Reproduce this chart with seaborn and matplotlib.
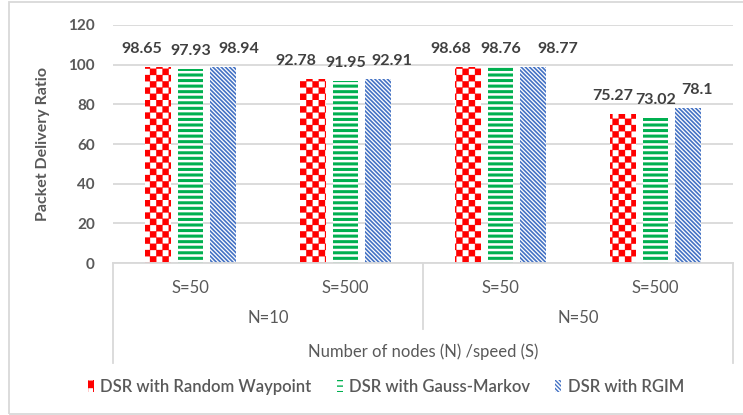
import numpy as np
import pandas as pd
import matplotlib
matplotlib.use('Agg')
import matplotlib.pyplot as plt
import matplotlib.hatch as mhatch
from matplotlib.path import Path
from matplotlib.patches import Rectangle, Patch
import matplotlib.transforms as mtransforms
import seaborn as sns

settings = ['N=10 S=50', 'N=10 S=500', 'N=50 S=50', 'N=50 S=500']
speed_labels = ['S=50', 'S=500', 'S=50', 'S=500']
node_labels = ['N=10', 'N=50']
models = ['DSR with Random Waypoint', 'DSR with Gauss-Markov', 'DSR with RGIM']
random_waypoint = [98.65, 92.78, 98.68, 75.27]
gauss_markov = [97.93, 91.95, 98.76, 73.02]
rgim = [98.94, 92.91, 98.77, 78.1]

colors = ['#FF0000', '#00B050', '#4472C4']


# checkerboard pattern for the red bars (takes the place of the "*" stars hatch)
class CheckerHatch(mhatch.HatchPatternBase):
    def __init__(self, hatch, density):
        self.n = 16 * hatch.count('*')
        self.num_vertices = (self.n * self.n // 2) * 5

    def set_vertices_and_codes(self, vertices, codes):
        s = 1.0 / self.n
        k = 0
        for i in range(self.n):
            for j in range(self.n):
                if (i + j) % 2:
                    continue
                x, y = i * s, j * s
                vertices[k:k + 5] = [(x, y), (x + s, y), (x + s, y + s), (x, y + s), (x, y)]
                codes[k:k + 5] = [Path.MOVETO, Path.LINETO, Path.LINETO, Path.LINETO, Path.CLOSEPOLY]
                k += 5


mhatch._hatch_types = [t for t in mhatch._hatch_types if t is not mhatch.Stars] + [CheckerHatch]

hatches = ['*', '---', '\\' * 8]
hatch_lw = [0.2, 2.2, 1.2]
# horizontal nudges of the value labels (points), as in the original
label_dx = [[-12, -13, -13, -8], [0, 0, 0, 0], [12, 10, 18, 7]]

plt.rcParams['font.family'] = ['Lato', 'DejaVu Sans']
plt.rcParams['hatch.linewidth'] = 1.0

df = pd.DataFrame({
    'setting': settings * 3,
    'pdr': random_waypoint + gauss_markov + rgim,
    'model': np.repeat(models, len(settings)),
})

fig = plt.figure(figsize=(7.43, 4.15), dpi=100)
ax = fig.add_axes([113 / 743, 1 - 263 / 415, 620 / 743, 238 / 415])

sns.barplot(data=df, x='setting', y='pdr', hue='model', order=settings, hue_order=models,
            palette=colors, width=0.62, gap=0.19, legend=False, ax=ax)

text_gray = '#595959'
grid_gray = '#D9D9D9'

handles = []
for cont, col, h, lw, dxs in zip(ax.containers, colors, hatches, hatch_lw, label_dx):
    for bar in cont:
        bar.set_facecolor('white')
        bar.set_edgecolor(col)
        bar.set_linewidth(0)
        bar.set_hatch(h)
        if hasattr(bar, 'set_hatch_linewidth'):
            bar.set_hatch_linewidth(lw)
    texts = ax.bar_label(cont, fmt='{:g}', padding=8, fontsize=11.5, fontweight='bold', color='#404040')
    for t, dx in zip(texts, dxs):
        t.xyann = (dx, 8)
    hp = Patch(facecolor='white', edgecolor=col, hatch=h, linewidth=0)
    if hasattr(hp, 'set_hatch_linewidth'):
        hp.set_hatch_linewidth(lw)
    handles.append(hp)

ax.set_ylim(0, 120)
ax.set_xlim(-0.5, 3.5)
ax.set_yticks(range(0, 121, 20))
ax.yaxis.grid(True, color=grid_gray, linewidth=1.3)
ax.set_axisbelow(True)
for side in ['left', 'right', 'top']:
    ax.spines[side].set_visible(False)
ax.spines['bottom'].set_color(grid_gray)
ax.spines['bottom'].set_linewidth(1.3)

ax.tick_params(axis='y', length=0, pad=13, labelsize=11, labelcolor=text_gray)
for t in ax.get_yticklabels():
    t.set_fontweight('bold')
ax.set_xticks(range(4))
ax.set_xticklabels(speed_labels)
ax.tick_params(axis='x', length=0, pad=12, labelsize=12, labelcolor=text_gray)

# multi-level category axis
trans = mtransforms.blended_transform_factory(ax.transData, ax.transAxes)
for x, depth in [(-0.5, 100), (1.5, 66), (3.5, 100)]:
    ax.plot([x, x], [0, -depth / 238], transform=trans, color=grid_gray, lw=1.3, clip_on=False)
for i, lab in enumerate(node_labels):
    ax.text(0.5 + 2 * i, -(318 - 263) / 238, lab, transform=trans, ha='center', va='center',
            fontsize=12, color=text_gray)

ax.set_xlabel('Number of nodes (N) /speed (S)', fontsize=12, color=text_gray, va='center')
ax.xaxis.set_label_coords(0.5, -(352 - 263) / 238)
ax.set_ylabel('Packet Delivery Ratio', fontsize=11.5, fontweight='bold', color=text_gray, va='center')
ax.yaxis.set_label_coords(-(113 - 43) / 620, 0.5)

fig.legend(handles, models, loc='center', bbox_to_anchor=(386 / 743, 1 - 387 / 415), ncol=3,
           frameon=False, labelcolor=text_gray, handlelength=0.35, handleheight=0.7,
           handletextpad=0.4, columnspacing=1.5, prop={'weight': 'semibold', 'size': 12})

fig.patches.append(Rectangle((9 / 743, 1 / 415), 1.0, 412 / 415, transform=fig.transFigure,
                             facecolor='none', edgecolor=grid_gray, linewidth=1.3))

fig.savefig('out.png', dpi=100)
plt.close(fig)
